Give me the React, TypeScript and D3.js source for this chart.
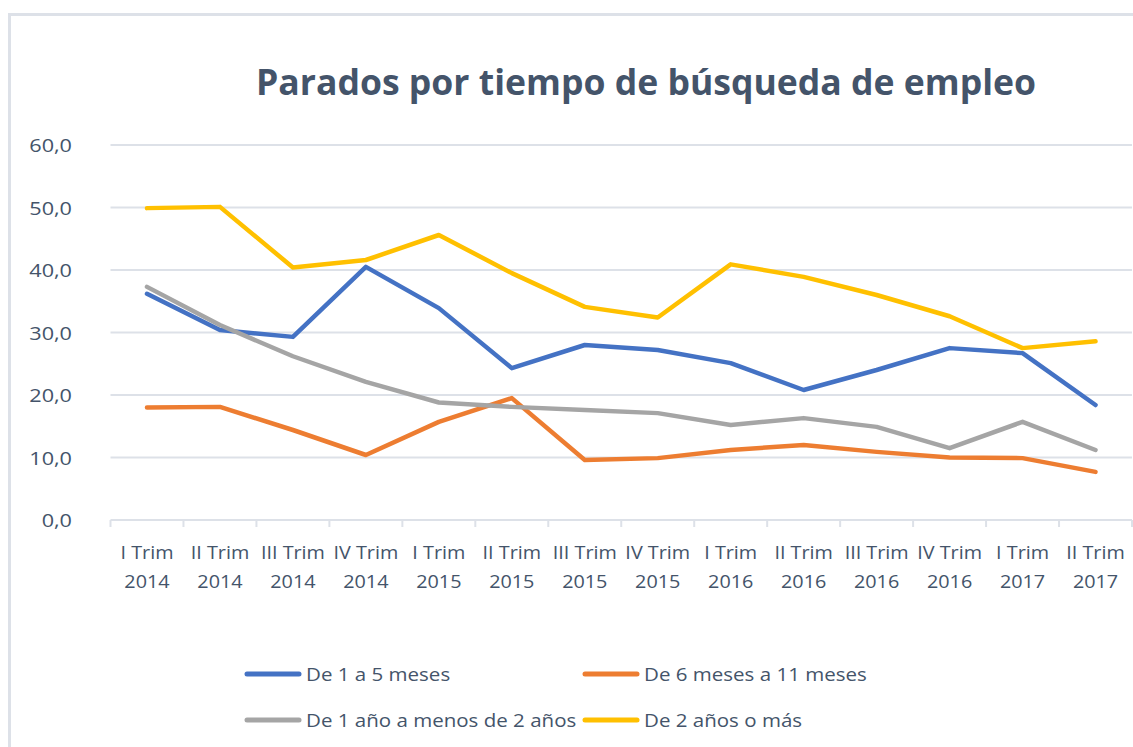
import React from "react";
import * as d3 from "d3";

const categories: string[][] = [
  ["I Trim", "2014"], ["II Trim", "2014"], ["III Trim", "2014"], ["IV Trim", "2014"],
  ["I Trim", "2015"], ["II Trim", "2015"], ["III Trim", "2015"], ["IV Trim", "2015"],
  ["I Trim", "2016"], ["II Trim", "2016"], ["III Trim", "2016"], ["IV Trim", "2016"],
  ["I Trim", "2017"], ["II Trim", "2017"],
];

const de1a5meses = [36.2, 30.4, 29.3, 40.5, 33.9, 24.3, 28.0, 27.2, 25.1, 20.8, 24.0, 27.5, 26.7, 18.4];
const de6a11meses = [18.0, 18.1, 14.4, 10.4, 15.7, 19.5, 9.6, 9.9, 11.2, 12.0, 10.9, 10.0, 9.9, 7.7];
const de1a2anos = [37.3, 31.2, 26.2, 22.1, 18.8, 18.1, 17.6, 17.1, 15.2, 16.3, 14.9, 11.5, 15.7, 11.2];
const de2anosOMas = [49.9, 50.1, 40.4, 41.6, 45.6, 39.5, 34.1, 32.4, 40.9, 38.9, 36.0, 32.6, 27.5, 28.6];

const yTicks = [0, 10, 20, 30, 40, 50, 60];

const seriesNames = ["De 1 a 5 meses", "De 6 meses a 11 meses", "De 1 año a menos de 2 años", "De 2 años o más"];
const seriesColors = ["#4472C4", "#ED7D31", "#A5A5A5", "#FFC000"];
const seriesValues = [de1a5meses, de6a11meses, de1a2anos, de2anosOMas];

const textColor = "#44546A";
const gridColor = "#DDE1E8";
const font = "'Open Sans', 'Noto Sans', sans-serif";
const sx = 1.14;

export default function App() {
  const W = 1133, H = 747;
  const x = d3.scaleBand<number>().domain(d3.range(categories.length)).range([110.5, 1132]);
  const y = d3.scaleLinear().domain([0, 60]).range([520, 145]);
  const line = d3.line<number>()
    .x((_, i) => (x(i) as number) + x.bandwidth() / 2)
    .y((d) => y(d));

  const legendItems = [
    { i: 0, lx: 245, ty: 674 },
    { i: 1, lx: 583, ty: 674 },
    { i: 2, lx: 245, ty: 720 },
    { i: 3, lx: 583, ty: 720 },
  ];

  return (
    <svg width={W} height={H} style={{ position: "absolute", left: 0, top: 0, background: "#fff" }}>
      <rect x={9.5} y={14.5} width={1300} height={900} fill="#fff" stroke={gridColor} strokeWidth={3} />
      <text x={646} y={95} textAnchor="middle" fontFamily={font} fontWeight={700} fontSize={36}
        fill={textColor} textLength={780} lengthAdjust="spacingAndGlyphs">
        Parados por tiempo de búsqueda de empleo
      </text>
      {yTicks.map((t) => (
        <g key={t}>
          {t !== 0 && <line x1={110.5} x2={1132} y1={y(t)} y2={y(t)} stroke={gridColor} strokeWidth={2} />}
          <text transform={`translate(72,${y(t) + 7}) scale(${sx},1)`} textAnchor="end" fontFamily={font} fontSize={19} fill={textColor}>
            {d3.format(".1f")(t).replace(".", ",")}
          </text>
        </g>
      ))}
      <line x1={110.5} x2={1132} y1={y(0)} y2={y(0)} stroke={gridColor} strokeWidth={2} />
      {d3.range(categories.length + 1).map((i) => {
        const xx = i < categories.length ? (x(i) as number) : 1132;
        return <line key={i} x1={xx} x2={xx} y1={y(0)} y2={y(0) + 7} stroke={gridColor} strokeWidth={2} />;
      })}
      {categories.map((c, i) => {
        const cx = (x(i) as number) + x.bandwidth() / 2;
        return (
          <text key={i} transform={`translate(${cx},0) scale(1.1,1)`} textAnchor="middle" fontFamily={font} fontSize={18} fill={textColor}>
            <tspan x={0} y={559}>{c[0]}</tspan>
            <tspan x={0} y={588}>{c[1]}</tspan>
          </text>
        );
      })}
      {seriesValues.map((vals, k) => (
        <path key={k} d={line(vals) || ""} fill="none" stroke={seriesColors[k]} strokeWidth={4.5}
          strokeLinejoin="round" strokeLinecap="round" />
      ))}
      {legendItems.map((it) => (
        <g key={it.i}>
          <line x1={it.lx + 2} x2={it.lx + 54} y1={it.ty} y2={it.ty} stroke={seriesColors[it.i]} strokeWidth={5} strokeLinecap="round" />
          <text transform={`translate(${it.lx + 61},${it.ty + 7}) scale(${sx},1)`} fontFamily={font} fontSize={18} fill={textColor}>
            {seriesNames[it.i]}
          </text>
        </g>
      ))}
    </svg>
  );
}
